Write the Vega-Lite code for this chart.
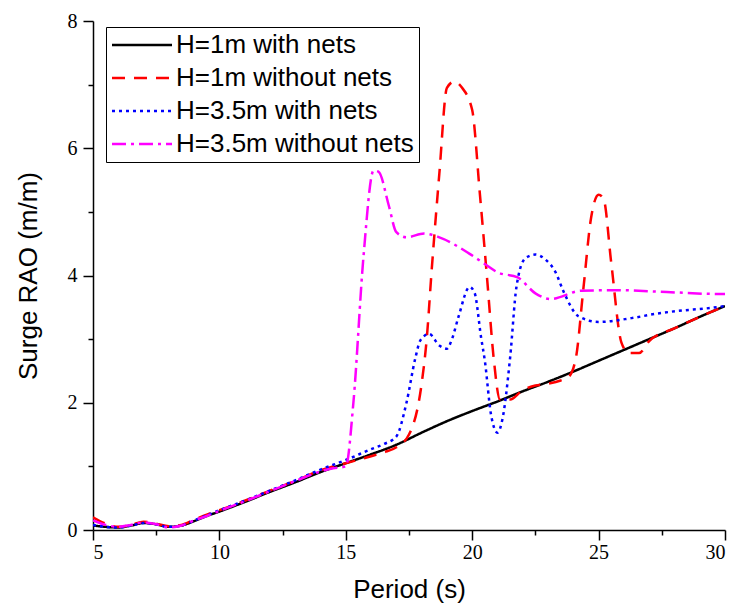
{
  "$schema": "https://vega.github.io/schema/vega-lite/v6.json",
  "width": 632,
  "height": 509,
  "autosize": {"type": "none"},
  "padding": {"left": 93, "top": 21, "right": 12, "bottom": 84},
  "background": "white",
  "config": {
    "view": {"stroke": null},
    "style": {
      "guide-label": {"font": "Liberation Serif", "fontSize": 20, "fill": "black"},
      "guide-title": {"font": "Liberation Sans", "fontSize": 26, "fontWeight": "normal", "fill": "black"}
    },
    "axis": {
      "domainColor": "black",
      "domainWidth": 1.5,
      "tickColor": "black",
      "tickWidth": 1.5,
      "grid": false,
      "labelColor": "black",
      "labelFont": "Liberation Serif",
      "labelFontSize": 20,
      "titleFont": "Liberation Sans",
      "titleFontSize": 26,
      "titleFontWeight": "normal",
      "titleColor": "black"
    }
  },
  "datasets": {
    "curves": [
      {"series": "H=1m with nets", "period": 5, "rao": 0.07},
      {"series": "H=1m with nets", "period": 5.5, "rao": 0.05},
      {"series": "H=1m with nets", "period": 6, "rao": 0.04},
      {"series": "H=1m with nets", "period": 6.5, "rao": 0.07},
      {"series": "H=1m with nets", "period": 7, "rao": 0.11},
      {"series": "H=1m with nets", "period": 7.5, "rao": 0.09},
      {"series": "H=1m with nets", "period": 8, "rao": 0.05},
      {"series": "H=1m with nets", "period": 8.5, "rao": 0.07},
      {"series": "H=1m with nets", "period": 9, "rao": 0.14},
      {"series": "H=1m with nets", "period": 9.5, "rao": 0.22},
      {"series": "H=1m with nets", "period": 10, "rao": 0.29},
      {"series": "H=1m with nets", "period": 11, "rao": 0.44},
      {"series": "H=1m with nets", "period": 12, "rao": 0.6},
      {"series": "H=1m with nets", "period": 13, "rao": 0.75},
      {"series": "H=1m with nets", "period": 14, "rao": 0.91},
      {"series": "H=1m with nets", "period": 15, "rao": 1.05},
      {"series": "H=1m with nets", "period": 16, "rao": 1.19},
      {"series": "H=1m with nets", "period": 17, "rao": 1.34},
      {"series": "H=1m with nets", "period": 18, "rao": 1.53},
      {"series": "H=1m with nets", "period": 19, "rao": 1.71},
      {"series": "H=1m with nets", "period": 20, "rao": 1.87},
      {"series": "H=1m with nets", "period": 21, "rao": 2.02},
      {"series": "H=1m with nets", "period": 22, "rao": 2.18},
      {"series": "H=1m with nets", "period": 23, "rao": 2.33},
      {"series": "H=1m with nets", "period": 24, "rao": 2.49},
      {"series": "H=1m with nets", "period": 25, "rao": 2.66},
      {"series": "H=1m with nets", "period": 26, "rao": 2.83},
      {"series": "H=1m with nets", "period": 27, "rao": 3.0},
      {"series": "H=1m with nets", "period": 28, "rao": 3.17},
      {"series": "H=1m with nets", "period": 29, "rao": 3.35},
      {"series": "H=1m with nets", "period": 30, "rao": 3.52},

      {"series": "H=1m without nets", "period": 5, "rao": 0.2},
      {"series": "H=1m without nets", "period": 5.5, "rao": 0.1},
      {"series": "H=1m without nets", "period": 6, "rao": 0.05},
      {"series": "H=1m without nets", "period": 6.5, "rao": 0.08},
      {"series": "H=1m without nets", "period": 7, "rao": 0.13},
      {"series": "H=1m without nets", "period": 7.5, "rao": 0.1},
      {"series": "H=1m without nets", "period": 8, "rao": 0.06},
      {"series": "H=1m without nets", "period": 8.5, "rao": 0.08},
      {"series": "H=1m without nets", "period": 9, "rao": 0.16},
      {"series": "H=1m without nets", "period": 9.5, "rao": 0.24},
      {"series": "H=1m without nets", "period": 10, "rao": 0.31},
      {"series": "H=1m without nets", "period": 11, "rao": 0.46},
      {"series": "H=1m without nets", "period": 12, "rao": 0.62},
      {"series": "H=1m without nets", "period": 13, "rao": 0.77},
      {"series": "H=1m without nets", "period": 14, "rao": 0.94},
      {"series": "H=1m without nets", "period": 15, "rao": 1.05},
      {"series": "H=1m without nets", "period": 16, "rao": 1.16},
      {"series": "H=1m without nets", "period": 16.5, "rao": 1.22},
      {"series": "H=1m without nets", "period": 17, "rao": 1.3},
      {"series": "H=1m without nets", "period": 17.5, "rao": 1.5},
      {"series": "H=1m without nets", "period": 18, "rao": 2.3},
      {"series": "H=1m without nets", "period": 18.2, "rao": 3.0},
      {"series": "H=1m without nets", "period": 18.4, "rao": 4.1},
      {"series": "H=1m without nets", "period": 18.7, "rao": 5.6},
      {"series": "H=1m without nets", "period": 19, "rao": 6.95},
      {"series": "H=1m without nets", "period": 19.3, "rao": 7.05},
      {"series": "H=1m without nets", "period": 19.6, "rao": 6.95},
      {"series": "H=1m without nets", "period": 20, "rao": 6.6},
      {"series": "H=1m without nets", "period": 20.3, "rao": 5.3},
      {"series": "H=1m without nets", "period": 20.6, "rao": 3.9},
      {"series": "H=1m without nets", "period": 20.85, "rao": 2.7},
      {"series": "H=1m without nets", "period": 21.1, "rao": 2.05},
      {"series": "H=1m without nets", "period": 21.5, "rao": 2.05},
      {"series": "H=1m without nets", "period": 22, "rao": 2.2},
      {"series": "H=1m without nets", "period": 22.5, "rao": 2.27},
      {"series": "H=1m without nets", "period": 23, "rao": 2.3},
      {"series": "H=1m without nets", "period": 23.5, "rao": 2.35},
      {"series": "H=1m without nets", "period": 23.8, "rao": 2.4},
      {"series": "H=1m without nets", "period": 24.1, "rao": 2.7},
      {"series": "H=1m without nets", "period": 24.4, "rao": 3.8},
      {"series": "H=1m without nets", "period": 24.7, "rao": 4.9},
      {"series": "H=1m without nets", "period": 25, "rao": 5.27},
      {"series": "H=1m without nets", "period": 25.2, "rao": 5.2},
      {"series": "H=1m without nets", "period": 25.5, "rao": 4.2},
      {"series": "H=1m without nets", "period": 25.9, "rao": 2.95},
      {"series": "H=1m without nets", "period": 26.2, "rao": 2.78},
      {"series": "H=1m without nets", "period": 26.6, "rao": 2.78},
      {"series": "H=1m without nets", "period": 27, "rao": 2.97},
      {"series": "H=1m without nets", "period": 28, "rao": 3.17},
      {"series": "H=1m without nets", "period": 29, "rao": 3.35},
      {"series": "H=1m without nets", "period": 30, "rao": 3.52},

      {"series": "H=3.5m with nets", "period": 5, "rao": 0.08},
      {"series": "H=3.5m with nets", "period": 5.5, "rao": 0.05},
      {"series": "H=3.5m with nets", "period": 6, "rao": 0.04},
      {"series": "H=3.5m with nets", "period": 6.5, "rao": 0.07},
      {"series": "H=3.5m with nets", "period": 7, "rao": 0.11},
      {"series": "H=3.5m with nets", "period": 7.5, "rao": 0.09},
      {"series": "H=3.5m with nets", "period": 8, "rao": 0.05},
      {"series": "H=3.5m with nets", "period": 8.5, "rao": 0.07},
      {"series": "H=3.5m with nets", "period": 9, "rao": 0.15},
      {"series": "H=3.5m with nets", "period": 9.5, "rao": 0.23},
      {"series": "H=3.5m with nets", "period": 10, "rao": 0.31},
      {"series": "H=3.5m with nets", "period": 11, "rao": 0.46},
      {"series": "H=3.5m with nets", "period": 12, "rao": 0.62},
      {"series": "H=3.5m with nets", "period": 13, "rao": 0.78},
      {"series": "H=3.5m with nets", "period": 14, "rao": 0.95},
      {"series": "H=3.5m with nets", "period": 15, "rao": 1.1},
      {"series": "H=3.5m with nets", "period": 16, "rao": 1.27},
      {"series": "H=3.5m with nets", "period": 16.5, "rao": 1.35},
      {"series": "H=3.5m with nets", "period": 17, "rao": 1.47},
      {"series": "H=3.5m with nets", "period": 17.4, "rao": 2.0},
      {"series": "H=3.5m with nets", "period": 17.75, "rao": 2.7},
      {"series": "H=3.5m with nets", "period": 17.95, "rao": 2.98},
      {"series": "H=3.5m with nets", "period": 18.3, "rao": 3.08},
      {"series": "H=3.5m with nets", "period": 18.7, "rao": 2.9},
      {"series": "H=3.5m with nets", "period": 19, "rao": 2.85},
      {"series": "H=3.5m with nets", "period": 19.2, "rao": 3.0},
      {"series": "H=3.5m with nets", "period": 19.45, "rao": 3.34},
      {"series": "H=3.5m with nets", "period": 19.9, "rao": 3.82},
      {"series": "H=3.5m with nets", "period": 20.1, "rao": 3.72},
      {"series": "H=3.5m with nets", "period": 20.35, "rao": 3.03},
      {"series": "H=3.5m with nets", "period": 20.5, "rao": 2.66},
      {"series": "H=3.5m with nets", "period": 20.75, "rao": 1.8},
      {"series": "H=3.5m with nets", "period": 21, "rao": 1.53},
      {"series": "H=3.5m with nets", "period": 21.2, "rao": 1.75},
      {"series": "H=3.5m with nets", "period": 21.5, "rao": 2.71},
      {"series": "H=3.5m with nets", "period": 21.75, "rao": 3.82},
      {"series": "H=3.5m with nets", "period": 22.1, "rao": 4.27},
      {"series": "H=3.5m with nets", "period": 22.5, "rao": 4.33},
      {"series": "H=3.5m with nets", "period": 22.9, "rao": 4.25},
      {"series": "H=3.5m with nets", "period": 23.3, "rao": 4.05},
      {"series": "H=3.5m with nets", "period": 23.6, "rao": 3.76},
      {"series": "H=3.5m with nets", "period": 24.2, "rao": 3.36},
      {"series": "H=3.5m with nets", "period": 25, "rao": 3.27},
      {"series": "H=3.5m with nets", "period": 26.3, "rao": 3.33},
      {"series": "H=3.5m with nets", "period": 27.3, "rao": 3.4},
      {"series": "H=3.5m with nets", "period": 28.3, "rao": 3.45},
      {"series": "H=3.5m with nets", "period": 29.2, "rao": 3.48},
      {"series": "H=3.5m with nets", "period": 30, "rao": 3.52},

      {"series": "H=3.5m without nets", "period": 5, "rao": 0.15},
      {"series": "H=3.5m without nets", "period": 5.5, "rao": 0.08},
      {"series": "H=3.5m without nets", "period": 6, "rao": 0.05},
      {"series": "H=3.5m without nets", "period": 6.5, "rao": 0.08},
      {"series": "H=3.5m without nets", "period": 7, "rao": 0.12},
      {"series": "H=3.5m without nets", "period": 7.5, "rao": 0.09},
      {"series": "H=3.5m without nets", "period": 8, "rao": 0.04},
      {"series": "H=3.5m without nets", "period": 8.5, "rao": 0.07},
      {"series": "H=3.5m without nets", "period": 9, "rao": 0.15},
      {"series": "H=3.5m without nets", "period": 9.5, "rao": 0.22},
      {"series": "H=3.5m without nets", "period": 10, "rao": 0.3},
      {"series": "H=3.5m without nets", "period": 11, "rao": 0.45},
      {"series": "H=3.5m without nets", "period": 12, "rao": 0.61},
      {"series": "H=3.5m without nets", "period": 13, "rao": 0.77},
      {"series": "H=3.5m without nets", "period": 14, "rao": 0.92},
      {"series": "H=3.5m without nets", "period": 14.5, "rao": 0.97},
      {"series": "H=3.5m without nets", "period": 15, "rao": 1.0},
      {"series": "H=3.5m without nets", "period": 15.3, "rao": 2.0},
      {"series": "H=3.5m without nets", "period": 15.7, "rao": 4.3},
      {"series": "H=3.5m without nets", "period": 16.1, "rao": 5.65},
      {"series": "H=3.5m without nets", "period": 16.3, "rao": 5.63},
      {"series": "H=3.5m without nets", "period": 16.7, "rao": 5.1},
      {"series": "H=3.5m without nets", "period": 17, "rao": 4.68},
      {"series": "H=3.5m without nets", "period": 17.4, "rao": 4.6},
      {"series": "H=3.5m without nets", "period": 18.1, "rao": 4.66},
      {"series": "H=3.5m without nets", "period": 18.7, "rao": 4.6},
      {"series": "H=3.5m without nets", "period": 19.9, "rao": 4.34},
      {"series": "H=3.5m without nets", "period": 20.5, "rao": 4.18},
      {"series": "H=3.5m without nets", "period": 21, "rao": 4.05},
      {"series": "H=3.5m without nets", "period": 21.8, "rao": 3.97},
      {"series": "H=3.5m without nets", "period": 22.5, "rao": 3.72},
      {"series": "H=3.5m without nets", "period": 23.1, "rao": 3.63},
      {"series": "H=3.5m without nets", "period": 24.3, "rao": 3.76},
      {"series": "H=3.5m without nets", "period": 25.7, "rao": 3.77},
      {"series": "H=3.5m without nets", "period": 27.7, "rao": 3.74},
      {"series": "H=3.5m without nets", "period": 29.7, "rao": 3.71},
      {"series": "H=3.5m without nets", "period": 30, "rao": 3.71}
    ]
  },
  "data": {"name": "curves"},
  "layer": [
    {
      "mark": {"type": "line", "interpolate": "monotone", "strokeWidth": 2.5, "clip": true},
      "encoding": {
        "x": {
          "field": "period", "type": "quantitative",
          "scale": {"domain": [5, 30], "nice": false, "zero": false},
          "axis": {"title": "Period (s)", "values": [5, 10, 15, 20, 25, 30], "tickSize": 10, "labelPadding": 2, "titlePadding": 14, "labelFont": "Liberation Serif", "labelFontSize": 20}
        },
        "y": {
          "field": "rao", "type": "quantitative",
          "scale": {"domain": [0, 8], "nice": false},
          "axis": {"title": "Surge RAO (m/m)", "values": [0, 2, 4, 6, 8], "tickSize": 10, "labelPadding": 6, "titlePadding": 26, "labelFont": "Liberation Serif", "labelFontSize": 20}
        },
        "color": {
          "field": "series", "type": "nominal",
          "scale": {
            "domain": ["H=1m with nets", "H=1m without nets", "H=3.5m with nets", "H=3.5m without nets"],
            "range": ["#000000", "#FF0000", "#0000FF", "#FF00FF"]
          },
          "legend": {
            "title": null,
            "orient": "none",
            "legendX": 13,
            "legendY": 6,
            "strokeColor": "black",
            "fillColor": "white",
            "padding": 5,
            "symbolType": "M-3,0H3",
            "symbolSize": 400,
            "symbolOffset": 18,
            "symbolStrokeWidth": 2.5,
            "labelFont": "Liberation Sans",
            "labelFontSize": 26,
            "labelColor": "black",
            "labelOffset": 21,
            "labelLimit": 0,
            "rowPadding": 7
          }
        },
        "strokeDash": {
          "field": "series", "type": "nominal",
          "scale": {
            "domain": ["H=1m with nets", "H=1m without nets", "H=3.5m with nets", "H=3.5m without nets"],
            "range": [[1, 0], [13, 9], [3, 4], [14, 5, 3, 5]]
          },
          "legend": {
            "title": null,
            "orient": "none",
            "legendX": 13,
            "legendY": 6,
            "strokeColor": "black",
            "fillColor": "white",
            "padding": 5,
            "symbolType": "M-3,0H3",
            "symbolSize": 400,
            "symbolOffset": 18,
            "symbolStrokeWidth": 2.5,
            "labelFont": "Liberation Sans",
            "labelFontSize": 26,
            "labelColor": "black",
            "labelOffset": 21,
            "labelLimit": 0,
            "rowPadding": 7
          }
        }
      }
    },
    {
      "mark": {"type": "point", "opacity": 0},
      "encoding": {
        "x": {
          "field": "period", "type": "quantitative",
          "axis": {"title": null, "orient": "bottom", "values": [7.5, 12.5, 17.5, 22.5, 27.5], "tickSize": 5, "labels": false, "domain": false}
        },
        "y": {
          "field": "rao", "type": "quantitative",
          "axis": {"title": null, "orient": "left", "values": [1, 3, 5, 7], "tickSize": 5, "labels": false, "domain": false}
        }
      }
    }
  ],
  "resolve": {"axis": {"x": "independent", "y": "independent"}}
}
